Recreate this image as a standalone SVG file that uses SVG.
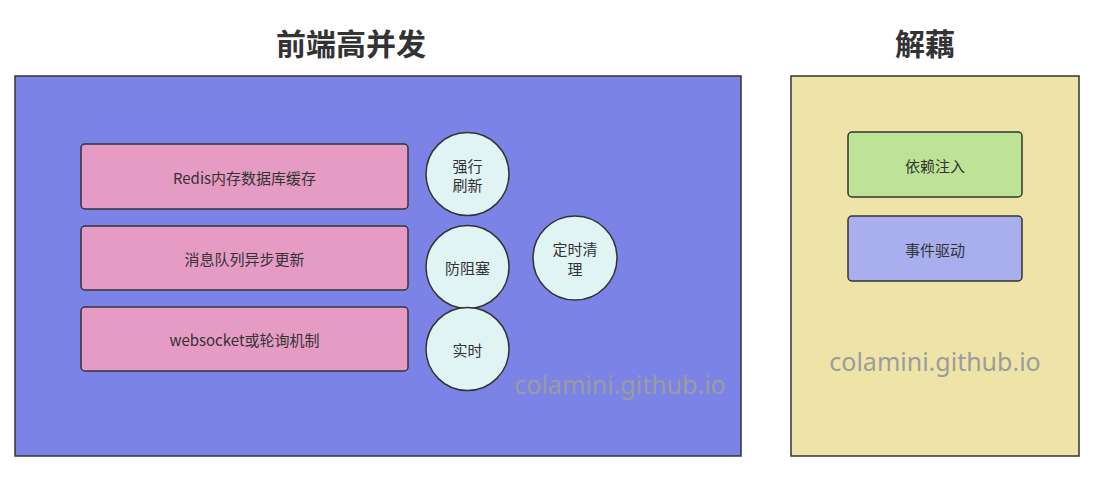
<svg xmlns="http://www.w3.org/2000/svg" width="1098" height="492" viewBox="0 0 1098 492">
<style>
text{font-family:"Noto Sans CJK SC","Noto Sans",sans-serif;fill:#333;text-anchor:middle;dominant-baseline:central}
.title{font-size:30px;font-weight:bold}
.lbl{font-size:15px}
.wm{font-size:25px;fill:#9c9c9c;font-family:"Noto Sans","Open Sans",sans-serif}
.box{stroke:#333;stroke-width:1.5}
.pink{fill:#e59bc4}
.circ{fill:#e0f4f3;stroke:#333;stroke-width:1.5}
</style>
<rect width="1098" height="492" fill="#fff"/>
<g id="titles">
<text class="title" x="351" y="42">前端高并发</text>
<text class="title" x="925" y="42">解藕</text>
</g>
<g id="frontend">
<rect x="15" y="76" width="726" height="380" fill="#7b84e6" stroke="#333" stroke-width="1.5"/>
<text class="wm" x="620" y="384">colamini.github.io</text>
</g>
<g id="decouple">
<rect x="791" y="76" width="288" height="380" fill="#efe4a8" stroke="#333" stroke-width="1.5"/>
<text class="wm" x="935" y="361">colamini.github.io</text>
</g>
<g id="redis"><rect class="box pink" x="81" y="144" width="327" height="65" rx="4"/><text class="lbl" x="244.5" y="177">Redis内存数据库缓存</text></g>
<g id="mq"><rect class="box pink" x="81" y="226" width="327" height="64" rx="4"/><text class="lbl" x="244.5" y="258">消息队列异步更新</text></g>
<g id="ws"><rect class="box pink" x="81" y="307" width="327" height="64" rx="4"/><text class="lbl" x="244.5" y="339">websocket或轮询机制</text></g>
<g id="force"><circle class="circ" cx="467.5" cy="174" r="41.5"/><text class="lbl" x="467.5" y="165">强行</text><text class="lbl" x="467.5" y="184">刷新</text></g>
<g id="nonblock"><circle class="circ" cx="467.5" cy="267" r="41.5"/><text class="lbl" x="467.5" y="267">防阻塞</text></g>
<g id="realtime"><circle class="circ" cx="467.5" cy="349" r="41.5"/><text class="lbl" x="467.5" y="349">实时</text></g>
<g id="cleanup"><circle class="circ" cx="575" cy="258" r="42"/><text class="lbl" x="575" y="248">定时清</text><text class="lbl" x="575" y="268">理</text></g>
<g id="di"><rect class="box" x="848" y="132" width="174" height="65" rx="4" fill="#bde397"/><text class="lbl" x="935" y="165">依赖注入</text></g>
<g id="event"><rect class="box" x="848" y="216" width="174" height="65" rx="4" fill="#a8aeee"/><text class="lbl" x="935" y="249">事件驱动</text></g>
<g id="connectors"></g>
</svg>
